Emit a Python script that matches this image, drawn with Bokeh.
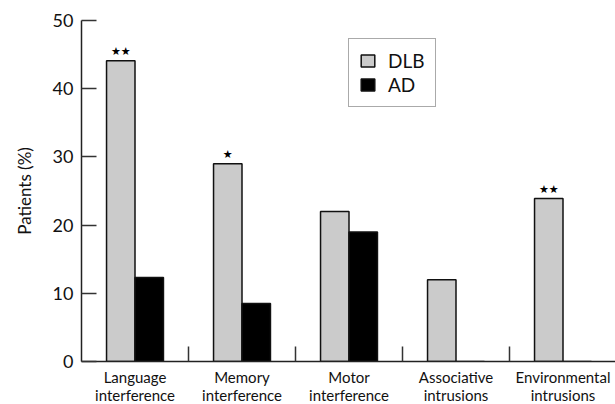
from bokeh.plotting import figure
from bokeh.models import ColumnDataSource, Range1d, FixedTicker, Legend, LegendItem
from bokeh.transform import dodge
from bokeh.core.properties import value
from bokeh.embed import file_html
from bokeh.resources import INLINE

categories = ["Language\ninterference", "Memory\ninterference", "Motor\ninterference",
              "Associative\nintrusions", "Environmental\nintrusions"]
dlb = [44.1, 29.0, 22.0, 12.0, 23.9]
ad = [12.3, 8.5, 19.0, 0.0, 0.0]
stars = ["★★", "★", "", "", "★★"]
y_ticks = [0, 10, 20, 30, 40, 50]

FONT = "Lato"
xpos = [i + 0.5 for i in range(len(categories))]
src = ColumnDataSource(dict(x=xpos, dlb=dlb, ad=ad, stars=stars))

p = figure(frame_width=535, frame_height=341, output_backend="svg", toolbar_location=None,
           x_range=Range1d(0, len(categories)), y_range=Range1d(0, 50),
           min_border_left=81, min_border_right=0, min_border_top=20, min_border_bottom=0)
p.outline_line_color = None
p.grid.grid_line_color = None
p.background_fill_color = "white"

bw = 0.266
r1 = p.vbar(x=dodge("x", -bw / 2, range=p.x_range), top="dlb", width=bw, source=src,
            fill_color="#cbcbcb", line_color="#111111", line_width=1.5)
r2 = p.vbar(x=dodge("x", bw / 2, range=p.x_range), top="ad", width=bw, source=src,
            fill_color="#000000", line_color="#111111", line_width=1.5)
p.text(x=dodge("x", -bw / 2, range=p.x_range), y="dlb", text="stars", source=src,
       text_align="center", text_baseline="bottom", y_offset=-3,
       text_font=value("DejaVu Sans"), text_font_size="11px", text_color="#000000")

# x axis
xa = p.xaxis[0]
xa.ticker = FixedTicker(ticks=xpos, minor_ticks=[float(i) for i in range(1, len(categories))])
xa.major_label_overrides = {x: c for x, c in zip(xpos, categories)}
xa.major_tick_line_color = None
xa.minor_tick_in = 15
xa.minor_tick_out = 0
xa.minor_tick_line_color = "#333333"
xa.minor_tick_line_width = 1.5
xa.axis_line_color = "#222222"
xa.axis_line_width = 1.5
xa.major_label_text_font = FONT
xa.major_label_text_font_size = "15px"
xa.major_label_text_color = "#111111"
xa.major_label_standoff = 0
xa.major_label_text_line_height = 1.05

# y axis
ya = p.yaxis[0]
ya.ticker = FixedTicker(ticks=y_ticks)
ya.minor_tick_line_color = None
ya.major_tick_in = 15
ya.major_tick_out = 0
ya.major_tick_line_color = "#333333"
ya.major_tick_line_width = 1.5
ya.axis_line_color = "#222222"
ya.axis_line_width = 1.5
ya.major_label_text_font = FONT
ya.major_label_text_font_size = "18px"
ya.major_label_text_color = "#111111"
ya.major_label_standoff = 8
ya.axis_label = "Patients (%)"
ya.axis_label_text_font = FONT
ya.axis_label_text_font_size = "17px"
ya.axis_label_text_font_style = "normal"
ya.axis_label_text_color = "#111111"
ya.axis_label_standoff = 15

legend = Legend(items=[LegendItem(label="DLB", renderers=[r1]), LegendItem(label="AD", renderers=[r2])],
                location=(267, 254), glyph_width=17, glyph_height=15,
                label_text_font=FONT, label_text_font_size="19px", label_text_color="#111111",
                label_standoff=12, spacing=1, padding=10, margin=0,
                border_line_color="#555555", border_line_width=1.5,
                background_fill_alpha=1.0)
p.add_layout(legend, "center")

open("out.html", "w").write(file_html(p, INLINE))
